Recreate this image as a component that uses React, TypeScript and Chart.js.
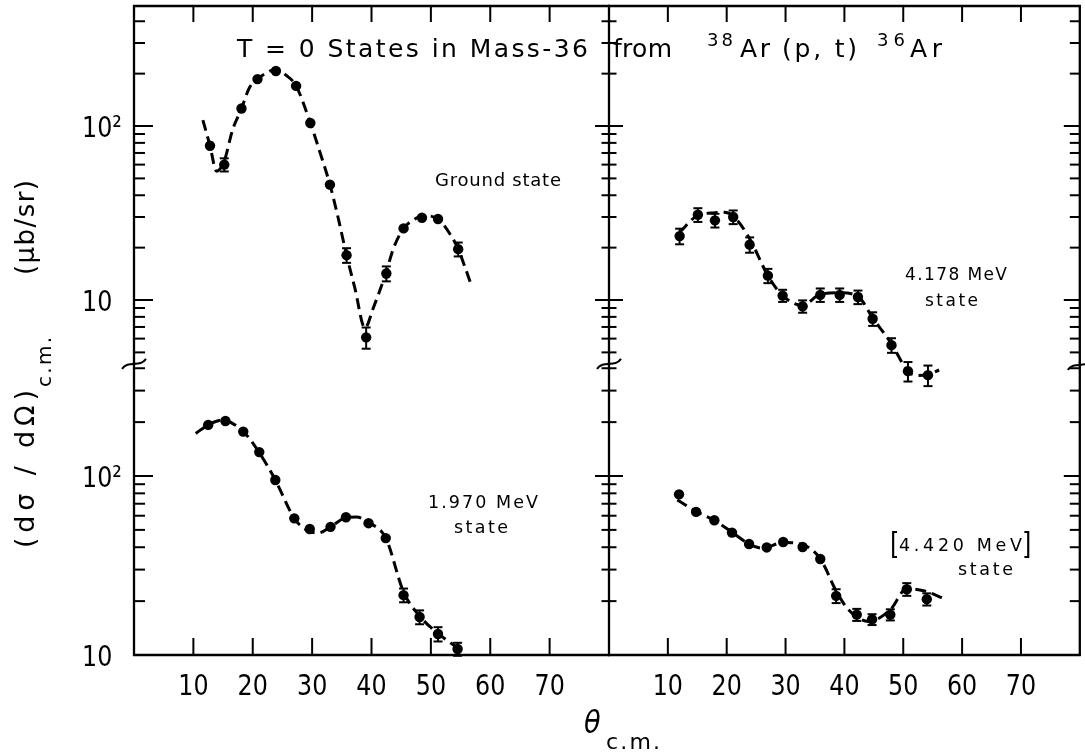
import React, { useEffect, useRef } from "react";
import { Chart, registerables } from "chart.js";

Chart.register(...registerables);

const W = 1085;
const H = 756;
const INK = "#000";
const FONT = '"DejaVu Sans", sans-serif';

// ---------- Data (angles in degrees c.m., cross sections in microbarn/sr) ----------
// Ground state (top-left)
const GS_ANGLES = [12.8, 15.2, 18.1, 20.8, 23.9, 27.3, 29.7, 33.0, 35.8, 39.1, 42.5, 45.4, 48.5, 51.2, 54.6];
const GS_XSEC = [77, 60, 126, 186, 207, 170, 104, 46, 18.1, 6.1, 14.2, 25.8, 29.7, 29.2, 19.6];
const GS_ERR = [0, 5.2, 0, 0, 0, 0, 0, 0, 1.75, 0.85, 1.4, 0, 0, 0, 1.8];
const GS_FIT_ANGLES = [11.6, 12.8, 13.9, 15.2, 16.6, 18.1, 19.4, 20.8, 22.2, 23.9, 25.6, 27.3, 29.7, 31.3, 33.0, 34.4, 35.8, 37.2, 38.9, 40.3, 42.4, 43.7, 45.4, 47.0, 48.8, 51.2, 53.3, 54.6, 56.8];
const GS_FIT = [108, 77, 55, 63, 95, 126, 165, 186, 201, 212, 196, 170, 104, 71, 46, 29.5, 18.1, 11.7, 6.9, 9.0, 14.2, 19.8, 25.8, 28.8, 30.5, 29.2, 23.7, 19.6, 12.2];

// 4.178 MeV state (top-right)
const E4178_ANGLES = [12.0, 15.1, 18.0, 21.1, 23.9, 27.0, 29.5, 32.9, 35.9, 39.2, 42.3, 44.8, 48.0, 50.8, 54.2];
const E4178_XSEC = [23.3, 30.9, 28.7, 30.0, 20.8, 13.8, 10.6, 9.2, 10.7, 10.7, 10.4, 7.8, 5.5, 3.9, 3.7];
const E4178_ERR = [2.4, 2.8, 2.6, 2.7, 2.1, 1.3, 0.85, 0.75, 0.95, 0.95, 0.93, 0.7, 0.53, 0.5, 0.5];
const E4178_FIT_ANGLES = [12.0, 15.0, 18.0, 19.4, 21.1, 23.9, 27.0, 29.5, 32.9, 35.9, 39.2, 42.3, 44.8, 48.0, 50.8, 52.5, 54.2, 56.1];
const E4178_FIT = [24.5, 30.5, 31.7, 31.9, 30.4, 22.5, 13.8, 10.6, 9.3, 10.8, 11.0, 10.5, 7.9, 5.6, 3.9, 3.68, 3.73, 3.96];

// 1.970 MeV state (bottom-left)
const E1970_ANGLES = [12.5, 15.4, 18.4, 21.1, 23.8, 27.0, 29.6, 33.1, 35.7, 39.5, 42.4, 45.4, 48.1, 51.2, 54.5];
const E1970_XSEC = [193, 203, 177, 136, 95, 58, 50.6, 52, 58.8, 54.5, 45, 21.6, 16.3, 13.1, 10.8];
const E1970_ERR = [0, 0, 0, 0, 0, 0, 0, 0, 0, 0, 0, 1.9, 1.45, 1.2, 0.9];
const E1970_FIT_ANGLES = [10.4, 12.5, 14.9, 18.4, 21.1, 23.8, 27.0, 29.0, 31.0, 33.1, 35.7, 37.5, 39.5, 42.4, 45.4, 48.1, 51.2, 54.6];
const E1970_FIT = [173, 193, 205, 177, 135, 95, 58, 50, 48, 52, 58.5, 59, 55, 45, 22.5, 16.5, 13.2, 10.9];

// [4.420 MeV] state (bottom-right)
const E4420_ANGLES = [11.9, 14.8, 17.9, 20.9, 23.8, 26.8, 29.6, 32.9, 35.9, 38.6, 42.1, 44.7, 47.8, 50.6, 54.0];
const E4420_XSEC = [79, 63, 56.6, 48.3, 41.7, 39.9, 42.8, 40.1, 34.4, 21.4, 16.8, 15.8, 16.8, 23.3, 20.5];
const E4420_ERR = [0, 0, 0, 0, 0, 0, 0, 0, 0, 1.9, 1.3, 1.1, 1.2, 1.9, 1.6];
const E4420_FIT_ANGLES = [11.6, 14.8, 17.9, 20.9, 23.8, 26.1, 29.6, 32.9, 35.9, 38.6, 40.7, 44.1, 47.8, 50.6, 53.6, 56.9];
const E4420_FIT = [73.5, 63.5, 56.5, 48.5, 41.7, 39.5, 42.5, 41.3, 34.5, 22.8, 17.9, 15.4, 17.9, 23.5, 22.8, 20.7];

// ---------- Axes ----------
const X_TICKS = [10, 20, 30, 40, 50, 60, 70];
const X_RANGE = [0, 80];
const Y_MAJOR = [10, 100];
const Y_LABELS = ["10", "10²"];
const TOP_Y_MINOR = [5, 6, 7, 8, 9, 20, 30, 40, 50, 60, 70, 80, 90, 200, 300, 400];
const BOTTOM_Y_MINOR = [20, 30, 40, 50, 60, 70, 80, 90, 200, 300, 400];
const TOP_Y_RANGE = [2.845, 489.5];
const BOTTOM_Y_RANGE = [10, 427.9];
const BREAK_VALUE = 4.35;

// ---------- Layout ----------
const FRAME = { left: 134, mid: 609, right: 1083, top: 6, split: 363, topAreaBottom: 395, bottom: 655 };

type Note = { text: string; x: number; y: number; w: number; size: number; sx?: number };
type Panel = {
  row: "top" | "bottom";
  col: "left" | "right";
  angles: number[];
  xsec: number[];
  err: number[];
  fitA: number[];
  fit: number[];
  notes: Note[];
  extra?: boolean;
};

const PANELS: Panel[] = [
  {
    row: "top", col: "left", angles: GS_ANGLES, xsec: GS_XSEC, err: GS_ERR, fitA: GS_FIT_ANGLES, fit: GS_FIT,
    notes: [{ text: "Ground state", x: 435, y: 186, w: 126, size: 18 }],
    extra: true,
  },
  {
    row: "top", col: "right", angles: E4178_ANGLES, xsec: E4178_XSEC, err: E4178_ERR, fitA: E4178_FIT_ANGLES, fit: E4178_FIT,
    notes: [
      { text: "4.178 MeV", x: 905, y: 280, w: 102, size: 17 },
      { text: "state", x: 925, y: 306, w: 53, size: 17 },
    ],
  },
  {
    row: "bottom", col: "left", angles: E1970_ANGLES, xsec: E1970_XSEC, err: E1970_ERR, fitA: E1970_FIT_ANGLES, fit: E1970_FIT,
    notes: [
      { text: "1.970 MeV", x: 428, y: 508, w: 110, size: 17.5 },
      { text: "state", x: 454, y: 533, w: 54, size: 17.5 },
    ],
  },
  {
    row: "bottom", col: "right", angles: E4420_ANGLES, xsec: E4420_XSEC, err: E4420_ERR, fitA: E4420_FIT_ANGLES, fit: E4420_FIT,
    notes: [
      { text: "[", x: 890, y: 554, w: 8, size: 30, sx: 0.8 },
      { text: "4.420 MeV", x: 899, y: 551, w: 123, size: 17.5 },
      { text: "]", x: 1022, y: 554, w: 8, size: 30, sx: 0.8 },
      { text: "state", x: 958, y: 575, w: 55, size: 17.5 },
    ],
  },
];

// ---------- drawing helpers ----------
function seg(ctx: CanvasRenderingContext2D, x1: number, y1: number, x2: number, y2: number) {
  ctx.beginPath();
  ctx.moveTo(x1, y1);
  ctx.lineTo(x2, y2);
  ctx.stroke();
}

function fitText(ctx: CanvasRenderingContext2D, text: string, x: number, y: number, width: number, size: number, style = "") {
  ctx.save();
  ctx.font = `${style} ${size}px ${FONT}`;
  ctx.textBaseline = "alphabetic";
  ctx.textAlign = "left";
  ctx.fillStyle = INK;
  const w = ctx.measureText(text).width;
  const n = text.length;
  if (w < width && n > 1 && "letterSpacing" in ctx) {
    (ctx as any).letterSpacing = `${(width - w) / (n - 1)}px`;
    ctx.fillText(text, x, y);
  } else {
    ctx.translate(x, y);
    ctx.scale(width / w, 1);
    ctx.fillText(text, 0, 0);
  }
  ctx.restore();
}

function scaledText(ctx: CanvasRenderingContext2D, text: string, x: number, y: number, size: number, sx: number, align: "left" | "center", style = "") {
  ctx.save();
  ctx.font = `${style} ${size}px ${FONT}`;
  ctx.textBaseline = "alphabetic";
  ctx.textAlign = "left";
  ctx.fillStyle = INK;
  const w = ctx.measureText(text).width * sx;
  const x0 = align === "center" ? x - w / 2 : x;
  ctx.translate(x0, y);
  ctx.scale(sx, 1);
  ctx.fillText(text, 0, 0);
  ctx.restore();
}

function breakMark(ctx: CanvasRenderingContext2D, x: number, y: number) {
  ctx.beginPath();
  ctx.moveTo(x - 12, y + 5);
  ctx.bezierCurveTo(x - 6, y - 4, x + 6, y + 4, x + 12, y - 5);
  ctx.stroke();
}

function drawFreeText(ctx: CanvasRenderingContext2D) {
  // title
  fitText(ctx, "T = 0 States in Mass-36", 237, 57, 351, 25);
  fitText(ctx, "from", 613, 57, 59, 25);
  fitText(ctx, "38", 707, 46, 26, 18);
  fitText(ctx, "Ar", 740, 57, 30, 25);
  fitText(ctx, "(p, t)", 782, 57, 75, 25);
  fitText(ctx, "36", 877, 46, 28, 18);
  fitText(ctx, "Ar", 910, 57, 32, 25);

  // y-axis title (rotated)
  const rot = (fn: () => void, x: number, y: number) => {
    ctx.save();
    ctx.translate(x, y);
    ctx.rotate(-Math.PI / 2);
    fn();
    ctx.restore();
  };
  rot(() => fitText(ctx, "(dσ / dΩ)", 0, 0, 158, 27), 34, 548);
  rot(() => fitText(ctx, "c.m.", 0, 0, 50, 20), 51, 387);
  rot(() => fitText(ctx, "(μb/sr)", 0, 0, 95, 26), 34, 275);

  // x-axis title
  scaledText(ctx, "θ", 584, 733, 32, 0.85, "left", "italic");
  fitText(ctx, "c.m.", 606, 749, 54, 22);
}

function makePanelPlugin(p: Panel) {
  return {
    id: "panelFrame",
    afterDraw(chart: any) {
      const ctx: CanvasRenderingContext2D = chart.ctx;
      const xs = chart.scales.x;
      const ys = chart.scales.y;
      const { left, right, top, bottom } = chart.chartArea;
      const isTop = p.row === "top";
      const vTop = top;
      const vBot = isTop ? ys.getPixelForValue(BREAK_VALUE) : bottom;

      ctx.save();
      ctx.strokeStyle = INK;
      ctx.fillStyle = INK;
      ctx.lineWidth = 2.3;
      ctx.lineCap = "butt";

      // vertical axes
      seg(ctx, left, vTop - 1, left, vBot + (isTop ? 0 : 1));
      if (p.col === "right") seg(ctx, right, vTop - 1, right, vBot + (isTop ? 0 : 1));
      // horizontal edge
      const hy = isTop ? top : bottom;
      seg(ctx, left - 1, hy, right + 1, hy);

      ctx.lineWidth = 2;
      // x ticks (inward)
      X_TICKS.forEach((v) => {
        const px = xs.getPixelForValue(v);
        if (isTop) seg(ctx, px, top, px, top + 16);
        else seg(ctx, px, bottom, px, bottom - 17);
      });

      // y ticks
      const minors = isTop ? TOP_Y_MINOR : BOTTOM_Y_MINOR;
      const all: [number, boolean][] = [
        ...Y_MAJOR.map((v) => [v, true] as [number, boolean]),
        ...minors.map((v) => [v, false] as [number, boolean]),
      ];
      for (const [v, major] of all) {
        const py = ys.getPixelForValue(v);
        if (py < vTop + 2 || py > vBot + 0.5) continue;
        if (p.col === "left") {
          seg(ctx, left, py, left + (major ? 19 : 11), py);
        } else {
          const h = major ? 14 : 7.5;
          seg(ctx, left - h, py, left + h, py);
          seg(ctx, right - (major ? 16 : 10), py, right, py);
        }
      }

      // axis break marks
      if (isTop) {
        breakMark(ctx, left, vBot + 1);
        if (p.col === "right") breakMark(ctx, right, vBot + 2);
      }

      // error bars
      ctx.lineWidth = 2;
      p.err.forEach((e, i) => {
        if (!e) return;
        const px = xs.getPixelForValue(p.angles[i]);
        const y1 = ys.getPixelForValue(p.xsec[i] + e);
        const y2 = ys.getPixelForValue(p.xsec[i] - e);
        seg(ctx, px, y1, px, y2);
        seg(ctx, px - 4.5, y1, px + 4.5, y1);
        seg(ctx, px - 4.5, y2, px + 4.5, y2);
      });

      // tick labels
      if (p.col === "left") {
        Y_MAJOR.forEach((v, i) => {
          const py = ys.getPixelForValue(v);
          scaledText(ctx, Y_LABELS[i], 82, py + 10.5, 29, 0.82, "left");
        });
      }
      if (!isTop) {
        X_TICKS.forEach((v) => {
          const px = xs.getPixelForValue(v);
          scaledText(ctx, String(v), px, bottom + 40, 29, 0.82, "center");
        });
      }

      // annotations
      p.notes.forEach((n) => {
        if (n.sx) scaledText(ctx, n.text, n.x, n.y, n.size, n.sx, "left");
        else fitText(ctx, n.text, n.x, n.y, n.w, n.size);
      });

      if (p.extra) drawFreeText(ctx);
      ctx.restore();
    },
  };
}

function buildConfig(p: Panel): any {
  const isTop = p.row === "top";
  const isLeft = p.col === "left";
  const padding = {
    left: isLeft ? FRAME.left : FRAME.mid,
    right: W - (isLeft ? FRAME.mid : FRAME.right),
    top: isTop ? FRAME.top : FRAME.split,
    bottom: H - (isTop ? FRAME.topAreaBottom : FRAME.bottom),
  };
  const yRange = isTop ? TOP_Y_RANGE : BOTTOM_Y_RANGE;
  return {
    type: "scatter",
    data: {
      datasets: [
        {
          data: p.fitA.map((a, i) => ({ x: a, y: p.fit[i] })),
          showLine: true,
          borderColor: INK,
          borderWidth: 3,
          borderDash: [11, 6],
          pointRadius: 0,
          cubicInterpolationMode: "monotone",
          fill: false,
        },
        {
          data: p.angles.map((a, i) => ({ x: a, y: p.xsec[i] })),
          showLine: false,
          pointRadius: 5.2,
          pointBorderWidth: 0,
          pointBackgroundColor: INK,
          backgroundColor: INK,
          borderColor: INK,
        },
      ],
    },
    options: {
      responsive: false,
      maintainAspectRatio: false,
      animation: false,
      events: [],
      layout: { padding },
      scales: {
        x: { type: "linear", min: X_RANGE[0], max: X_RANGE[1], display: false },
        y: { type: "logarithmic", min: yRange[0], max: yRange[1], display: false },
      },
      plugins: { legend: { display: false }, tooltip: { enabled: false }, title: { display: false } },
    },
    plugins: [makePanelPlugin(p)],
  };
}

export default function App() {
  const r0 = useRef<HTMLCanvasElement>(null);
  const r1 = useRef<HTMLCanvasElement>(null);
  const r2 = useRef<HTMLCanvasElement>(null);
  const r3 = useRef<HTMLCanvasElement>(null);
  const refs = [r0, r1, r2, r3];

  useEffect(() => {
    const charts = PANELS.map((p, i) => new Chart(refs[i].current as HTMLCanvasElement, buildConfig(p)));
    return () => charts.forEach((c) => c.destroy());
  }, []);

  return (
    <div style={{ position: "absolute", left: 0, top: 0, width: W, height: H, background: "#fff", overflow: "hidden" }}>
      {PANELS.map((_, i) => (
        <canvas
          key={i}
          ref={refs[i]}
          width={W}
          height={H}
          style={{ position: "absolute", left: 0, top: 0, width: W, height: H }}
        />
      ))}
    </div>
  );
}
